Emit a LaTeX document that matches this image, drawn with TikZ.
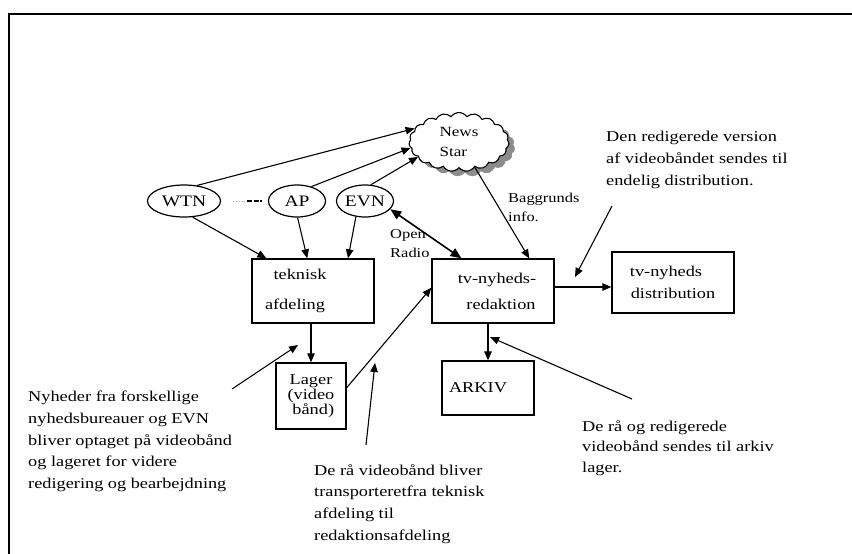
\documentclass[tikz,border=0pt]{standalone}
\usepackage{fontspec}
\setmainfont[FakeStretch=1.22]{Liberation Serif}
\usetikzlibrary{arrows.meta,shapes.geometric,shapes.symbols,shadows}

\begin{document}
\begin{tikzpicture}
[x=1pt,y=-1pt,
 agency/.style={ellipse,draw,line width=1.2pt,inner sep=0pt,minimum width=57pt,minimum height=32pt,font=\fontsize{16}{18}\selectfont},
 dept/.style={rectangle,draw,line width=1.3pt,inner sep=0pt,align=center,font=\fontsize{15}{18}\selectfont},
 note/.style={align=left,anchor=north west,inner sep=0pt,font=\fontsize{15}{21.7}\selectfont},
 tag/.style={align=left,anchor=north west,inner sep=0pt,font=\fontsize{13.5}{19}\selectfont},
 flow/.style={-{Triangle[length=9pt,width=7.5pt]},line width=1.1pt}]

\useasboundingbox (0,0) rectangle (852,554);
\draw[line width=1.5pt] (9,554) -- (9,14) -- (852,14);

% news agencies and the cloud
\node (WTN) at (184,201) [agency,minimum width=73pt] {WTN};
\node (AP) at (297,201) [agency] {AP};
\node (EVN) at (365,201) [agency] {EVN};
\node (NS) at (459,142) [cloud,cloud puffs=19,cloud puff arc=110,draw,line width=1.1pt,fill=white,
  minimum width=100pt,minimum height=58pt,inner sep=0pt,align=left,font=\fontsize{14}{20}\selectfont,
  drop shadow={shadow xshift=6pt,shadow yshift=-5pt,fill=black!45,opacity=1}] {News\\Star};

\draw[gray!60,dotted,line width=0.8pt] ([xshift=12pt]WTN.east) -- ([xshift=25pt]WTN.east);
\draw[line width=1.6pt,dash pattern=on 5pt off 1.5pt] ([xshift=26pt]WTN.east) -- ([xshift=-6pt]AP.west);

% departments
\node (tek) at (313,291) [dept,minimum width=122pt,minimum height=64pt] {teknisk\hspace*{26pt}\\[12pt]afdeling\hspace*{36pt}};
\node (tv) at (493,291) [dept,minimum width=122pt,minimum height=64pt] {\hspace*{8pt}tv-nyheds-\\[8pt]\hspace*{16pt}redaktion};
\node (lager) at (311,396) [dept,minimum width=70pt,minimum height=66pt,font=\fontsize{15}{15}\selectfont] {Lager\\(video\\\ bånd)};
\node (arkiv) at (488,388) [dept,minimum width=92pt,minimum height=54pt] {ARKIV\hspace*{20pt}};
\node (dist) at (673,282.5) [dept,minimum width=122pt,minimum height=61pt] {tv-nyheds\hspace*{14pt}\\[4pt]distribution};

\foreach \from/\to in {WTN.50/NS.163, AP.45/NS.187, EVN.70/NS.200,
  WTN.-62/tek.145, AP.-88/tek.100, EVN.-120/tek.43,
  lager.13/tv.177, NS.-58/tv.42}
  \draw[flow] (\from) -- (\to);

\draw[flow] (lager.north |- tek.south) -- (lager.north);
\draw[flow] (arkiv.north |- tv.south) -- (arkiv.north);
\draw[flow] ([yshift=4pt]tv.east) -- ([yshift=4pt]tv.east -| dist.west);
\draw[{Triangle[length=11pt,width=9pt]}-{Triangle[length=11pt,width=9pt]},line width=1.6pt] (EVN.-18) -- (tv.134);

\node (open) at (390,229) [tag] {Open\\Radio};
\node (bag) at (508,193) [tag] {Baggrunds\\info.};

% explanations
\node (noteL) at (28,391) [note] {Nyheder fra forskellige\\nyhedsbureauer og EVN\\bliver optaget på videobånd\\og lageret for videre\\redigering og bearbejdning};
\node (noteM) at (314,464) [note] {De rå videobånd bliver\\transporteretfra teknisk\\afdeling til\\redaktionsafdeling};
\node (noteR) at (606,131) [note] {Den redigerede version\\af videobåndet sendes til\\endelig distribution.};
\node (noteB) at (582,420) [note,font=\fontsize{15}{20.5}\selectfont] {De rå og redigerede\\videobånd sendes til arkiv\\lager.};

\coordinate (sL) at (232,389); \coordinate (eL) at (298,345);
\coordinate (sM) at (366,445); \coordinate (eM) at (375,363);
\coordinate (sR) at (612,206); \coordinate (eR) at (575,277);
\coordinate (sB) at (632,399); \coordinate (eB) at (490,337);
\foreach \from/\to in {sL/eL, sM/eM, sR/eR, sB/eB}
  \draw[flow] (\from) -- (\to);

\end{tikzpicture}
\end{document}
